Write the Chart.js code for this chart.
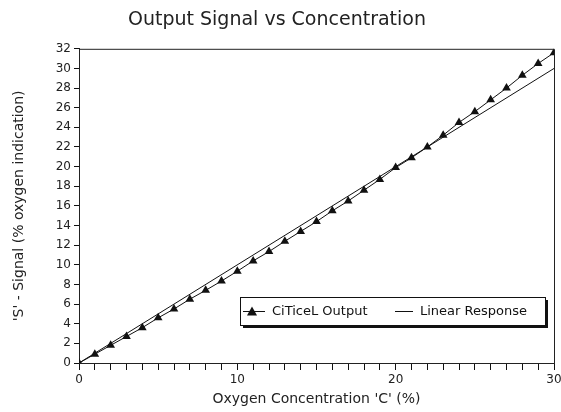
<!DOCTYPE html>
<html>
<head>
<meta charset="utf-8">
<script src="https://cdn.jsdelivr.net/npm/chart.js@4.4.1/dist/chart.umd.min.js"></script>
<style>
  html, body { margin: 0; padding: 0; background: #fff; }
  #wrap { width: 561px; height: 412px; }
</style>
</head>
<body>
<div id="wrap"><canvas id="chart" width="561" height="412"></canvas></div>
<script>
// Sensor readings
const concentration = [0, 1, 2, 3, 4, 5, 6, 7, 8, 9, 10, 11, 12, 13, 14, 15,
                       16, 17, 18, 19, 20, 21, 22, 23, 24, 25, 26, 27, 28, 29, 30];
const citicelOutput = [0, 0.9, 1.8, 2.7, 3.6, 4.6, 5.5, 6.5, 7.4, 8.35, 9.35, 10.4, 11.35, 12.4, 13.4, 14.4,
                       15.5, 16.5, 17.6, 18.7, 19.9, 20.9, 22.0, 23.2, 24.5, 25.6, 26.8, 28.0, 29.3, 30.5, 31.6];
const linearX = [0, 30];
const linearY = [0, 30];
const xTickLabels = [0, 10, 20, 30];

const FONT = "'DejaVu Sans', sans-serif";

// plot frame (top + right edges) and the boxed legend with shadow
const framePlugin = {
    id: 'frame',
    afterDraw(chart) {
        const { ctx, chartArea: a } = chart;
        ctx.save();
        ctx.strokeStyle = '#222';
        ctx.lineWidth = 1;
        ctx.beginPath();
        ctx.moveTo(a.left + 0.5, a.top + 0.5);
        ctx.lineTo(a.right + 0.5, a.top + 0.5);
        ctx.lineTo(a.right + 0.5, a.bottom + 0.5);
        ctx.stroke();

        // legend box
        const bx = a.left + 161, by = a.bottom - 66, bw = 305, bh = 28;
        ctx.fillStyle = '#111';
        ctx.fillRect(bx + 3, by + 3, bw, bh);
        ctx.fillStyle = '#fff';
        ctx.fillRect(bx, by, bw, bh);
        ctx.strokeStyle = '#111';
        ctx.strokeRect(bx + 0.5, by + 0.5, bw, bh);

        const cy = by + bh / 2 + 0.5;
        ctx.font = '13px ' + FONT;
        ctx.textBaseline = 'middle';
        ctx.fillStyle = '#111';
        // series 1
        ctx.beginPath();
        ctx.moveTo(bx + 3, cy);
        ctx.lineTo(bx + 25, cy);
        ctx.stroke();
        ctx.beginPath();
        ctx.moveTo(bx + 12, cy - 5);
        ctx.lineTo(bx + 17, cy + 4);
        ctx.lineTo(bx + 7, cy + 4);
        ctx.closePath();
        ctx.fill();
        ctx.fillText(chart.data.datasets[0].label, bx + 32, cy);
        // series 2
        ctx.beginPath();
        ctx.moveTo(bx + 155, cy);
        ctx.lineTo(bx + 173, cy);
        ctx.stroke();
        ctx.fillText(chart.data.datasets[1].label, bx + 180, cy);
        ctx.restore();
    }
};

new Chart(document.getElementById('chart'), {
    type: 'scatter',
    data: {
        datasets: [
            {
                label: 'CiTiceL Output',
                data: concentration.map((c, i) => ({ x: c, y: citicelOutput[i] })),
                showLine: true,
                borderColor: '#111',
                borderWidth: 1,
                backgroundColor: '#111',
                pointStyle: 'triangle',
                pointRadius: 5,
                pointBorderWidth: 0,
                tension: 0
            },
            {
                label: 'Linear Response',
                data: linearX.map((c, i) => ({ x: c, y: linearY[i] })),
                showLine: true,
                borderColor: '#111',
                borderWidth: 1,
                pointRadius: 0,
                tension: 0
            }
        ]
    },
    options: {
        responsive: false,
        animation: false,
        layout: { padding: { left: 0, right: 7, top: 0, bottom: 0 } },
        plugins: {
            legend: { display: false },
            tooltip: { enabled: false },
            title: {
                display: true,
                text: 'Output Signal vs Concentration',
                color: '#222',
                font: { family: FONT, size: 19, weight: 'normal' },
                padding: { top: 9, bottom: 17 }
            }
        },
        scales: {
            x: {
                type: 'linear',
                min: 0,
                max: 30,
                afterFit(s) { s.height = 49; s.paddingRight = 0; s.paddingLeft = 0; },
                // one minor tick per concentration step, labels every 10
                afterBuildTicks(s) { s.ticks = concentration.map(v => ({ value: v })); },
                border: { display: true, color: '#222', width: 1 },
                grid: { drawOnChartArea: false, drawTicks: true, tickLength: 7, color: '#111', tickColor: '#111', tickWidth: 1 },
                ticks: {
                    autoSkip: false,
                    maxRotation: 0,
                    color: '#222',
                    padding: 3,
                    font: { family: FONT, size: 12 },
                    callback: v => (xTickLabels.includes(v) ? v : '')
                },
                title: {
                    display: true,
                    text: "Oxygen Concentration 'C' (%)",
                    color: '#222',
                    font: { family: FONT, size: 14 },
                    padding: { top: 0 }
                }
            },
            y: {
                type: 'linear',
                min: 0,
                max: 32,
                afterFit(s) { s.width = 79; s.paddingTop = 0; s.paddingBottom = 0; },
                border: { display: true, color: '#222', width: 1 },
                grid: { drawOnChartArea: false, drawTicks: true, tickLength: 5, color: '#111' },
                ticks: {
                    stepSize: 2,
                    color: '#222',
                    padding: 3,
                    font: { family: FONT, size: 12 }
                },
                title: {
                    display: true,
                    text: "'S' - Signal (% oxygen indication)",
                    color: '#222',
                    font: { family: FONT, size: 14 },
                    padding: { top: 11, bottom: 0 }
                }
            }
        }
    },
    plugins: [framePlugin]
});
</script>
</body>
</html>
